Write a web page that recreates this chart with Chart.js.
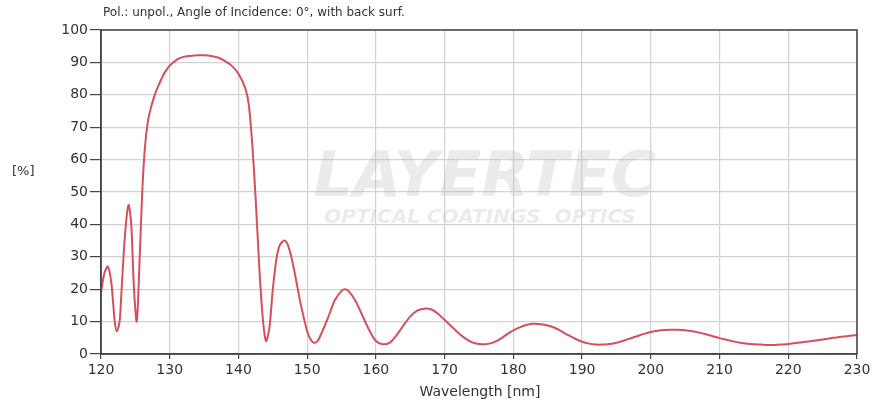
<!DOCTYPE html>
<html>
<head>
<meta charset="utf-8">
<script src="https://cdn.jsdelivr.net/npm/chart.js@4"></script>
<style>
    html, body { margin: 0; padding: 0; background: #fff; }
    #wrap { width: 875px; height: 409px; }
</style>
</head>
<body>
<div id="wrap"><canvas id="plot-canvas"></canvas></div>
<script>
// Wavelength [nm] and reflectance [%]
const wavelengths = [
    120, 120.5, 121, 121.5, 122, 122.3, 122.7, 123, 123.5, 124, 124.4, 124.8, 125.2, 125.6,
    126, 126.4, 126.8, 127.2, 127.6, 128, 128.5, 129, 129.5, 130, 131, 132, 133, 134, 135,
    136, 137, 138, 139, 140, 141, 141.5, 142, 142.5, 143, 143.5, 144, 144.5, 145, 145.5,
    146, 146.7, 147.3, 148, 149, 150, 150.5, 151, 151.5, 152, 153, 154, 155, 155.5, 156,
    157, 158, 159, 160, 161, 162, 163, 164, 165, 166, 167, 168, 169, 170, 171, 172, 173,
    174, 175, 176, 177, 178, 179, 180, 181, 182, 183, 184, 185, 186, 187, 188, 189, 190,
    191, 192, 193, 194, 195, 196, 197, 198, 199, 200, 201, 202, 203, 204, 205, 206, 207,
    208, 209, 210, 211, 212, 213, 214, 215, 216, 217, 218, 219, 220, 222, 224, 226, 228, 230,
];
const reflectance = [
    19, 25, 27, 22, 10, 7, 10, 20, 37, 46, 40, 20, 10, 28,
    50, 64, 71.5, 75.5, 78.5, 81, 83.5, 85.8, 87.6, 89, 90.8, 91.7, 92, 92.2, 92.2,
    92, 91.5, 90.5, 89, 86.5, 82, 77, 65, 48, 28, 12, 4, 8, 20, 29,
    33.5, 35, 33, 27, 16, 7, 4.5, 3.5, 4, 6, 11, 16.5, 19.5, 20, 19.5,
    16.5, 12, 7.5, 4, 3, 3.5, 5.8, 8.8, 11.6, 13.4, 14, 13.8, 12.5, 10.5, 8.5, 6.5, 4.8,
    3.6, 3.1, 3.0, 3.5, 4.5, 6, 7.3, 8.3, 9, 9.3, 9.2, 8.8, 8.1, 7, 5.8, 4.7, 3.8,
    3.2, 2.9, 2.9, 3.1, 3.5, 4.1, 4.8, 5.5, 6.2, 6.8, 7.2, 7.4, 7.5, 7.5, 7.3, 7.0, 6.6,
    6.1, 5.5, 4.9, 4.4, 3.9, 3.5, 3.2, 3.0, 2.9, 2.8, 2.8, 2.9, 3.1, 3.6, 4.2, 4.8, 5.4, 5.9,
];
const titleText = "Pol.: unpol., Angle of Incidence: 0°, with back surf.";
const xLabel = "Wavelength [nm]";
const yLabel = "[%]";

const FONT = "'DejaVu Sans', 'Liberation Sans', sans-serif";
const TEXT_COLOR = "#333";

// Frame, axis texts and faint watermark
const decorations = {
    id: "decorations",
    beforeDatasetsDraw(chart) {
        const ctx = chart.ctx;
        ctx.save();
        ctx.fillStyle = "rgba(190,190,190,0.3)";
        ctx.textAlign = "center";
        ctx.textBaseline = "middle";
        ctx.font = "italic bold 62px " + FONT;
        ctx.fillText("LAYERTEC", 485, 180);
        ctx.font = "italic bold 20px " + FONT;
        ctx.fillText("OPTICAL COATINGS  OPTICS", 480, 218);
        ctx.restore();
    },
    afterDraw(chart) {
        const ctx = chart.ctx;
        const a = chart.chartArea;
        ctx.save();
        ctx.strokeStyle = "#444";
        ctx.lineWidth = 1.5;
        ctx.strokeRect(a.left, a.top, a.right - a.left, a.bottom - a.top);
        ctx.fillStyle = TEXT_COLOR;
        ctx.font = "12px " + FONT;
        ctx.textAlign = "left";
        ctx.textBaseline = "middle";
        ctx.fillText(titleText, 103, 13);
        ctx.font = "13px " + FONT;
        ctx.fillText(yLabel, 12, 172);
        ctx.font = "14px " + FONT;
        ctx.textAlign = "center";
        ctx.fillText(xLabel, 480, 392);
        ctx.restore();
    },
};

new Chart("plot-canvas", {
    type: "line",
    data: {
        datasets: [{
            data: wavelengths.map((w, i) => ({ x: w, y: reflectance[i] })),
            borderColor: "#d64f5c",
            borderWidth: 2,
            pointRadius: 0,
            tension: 0.3,
            fill: false,
        }],
    },
    options: {
        responsive: true,
        maintainAspectRatio: false,
        animation: false,
        layout: { padding: { top: 30, right: 18, left: 0, bottom: 0 } },
        plugins: {
            legend: { display: false },
            tooltip: { enabled: false },
        },
        scales: {
            x: {
                type: "linear",
                min: 120,
                max: 230,
                afterFit: s => { s.height = 55; },
                ticks: {
                    stepSize: 10,
                    maxRotation: 0,
                    color: TEXT_COLOR,
                    padding: 3,
                    font: { family: FONT, size: 14 },
                },
                grid: { color: "#d2d2d2", lineWidth: 1.2, tickLength: 5, tickColor: "#444" },
                border: { color: "#444", width: 1.5 },
            },
            y: {
                min: 0,
                max: 100,
                afterFit: s => { s.width = 101; },
                ticks: {
                    stepSize: 10,
                    color: TEXT_COLOR,
                    padding: 2,
                    font: { family: FONT, size: 14 },
                },
                grid: { color: "#d2d2d2", lineWidth: 1.2, tickLength: 11, tickColor: "#444" },
                border: { color: "#444", width: 1.5 },
            },
        },
    },
    plugins: [decorations],
});
</script>
</body>
</html>
